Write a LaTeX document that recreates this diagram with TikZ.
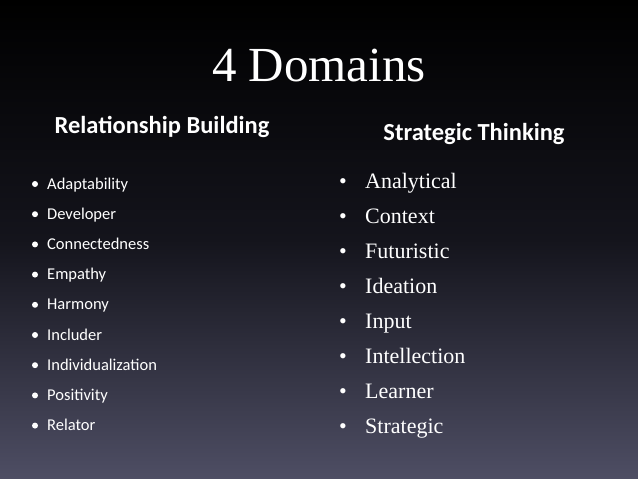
\documentclass[tikz,border=0pt]{standalone}
\usepackage{fontspec}
\setmainfont{Liberation Serif}
\newfontfamily\calfont{Carlito}
\begin{document}
\begin{tikzpicture}[x=1pt,y=-1pt,
  litem/.style={anchor=base west,inner sep=0,text=white,font=\calfont\fontsize{16.5}{19}\selectfont},
  ritem/.style={anchor=base west,inner sep=0,text=white,font=\fontsize{22}{26}\selectfont},
  hdr/.style={inner sep=0,text=white,font=\calfont\bfseries\fontsize{24.5}{29}\selectfont}]
\shade[top color=black, bottom color={rgb,255:red,78;green,78;blue,100}, middle color={rgb,255:red,20;green,20;blue,28}] (0,0) rectangle (638,479);
\useasboundingbox (0,0) rectangle (638,479);
\node[inner sep=0,text=white,font=\fontsize{49}{56}\selectfont] (title) at (319,66) {4 Domains};
\node[hdr] (h1) at (162,127) {Relationship Building};
\node[hdr] (h2) at (474,134) {Strategic Thinking};
\foreach \t [count=\i] in {Adaptability,Developer,Connectedness,Empathy,Harmony,Includer,Individualization,Positivity,Relator}{
  \pgfmathsetmacro\yy{184+(\i-1)*30.2}
  \fill[white] (35,\yy) circle (3);
  \node[litem] (l\i) at (47,\yy+5) {\t};
}
\foreach \t [count=\i] in {Analytical,Context,Futuristic,Ideation,Input,Intellection,Learner,Strategic}{
  \pgfmathsetmacro\yy{182+(\i-1)*35.1}
  \node[ritem] (b\i) at (339,\yy+6) {•};
  \node[ritem] (r\i) at (365,\yy+6) {\t};
}
\end{tikzpicture}
\end{document}
